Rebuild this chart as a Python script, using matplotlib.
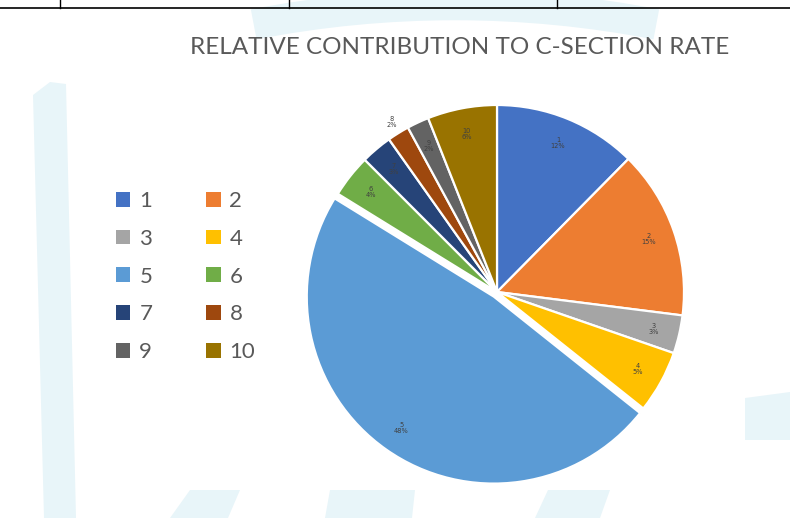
import numpy as np
import matplotlib.pyplot as plt
from matplotlib.patches import Patch, Arc, Polygon
from matplotlib.lines import Line2D

# share of caesarean sections per group (percent)
groups = ["1", "2", "3", "4", "5", "6", "7", "8", "9", "10"]
shares = [12.4, 14.6, 3.3, 5.4, 48.1, 3.7, 2.7, 1.9, 1.9, 6.0]
slice_colors = ["#4472C4", "#ED7D31", "#A5A5A5", "#FFC000", "#5B9BD5",
                "#70AD47", "#264478", "#9E480E", "#636363", "#997300"]
title = "RELATIVE CONTRIBUTION TO C-SECTION RATE"

W, H = 790, 518
fig = plt.figure(figsize=(W / 100, H / 100), dpi=100)
fig.patch.set_facecolor("white")


def fx(px):
    return px / W


def fy(py):
    return 1 - py / H


# faint background logo shapes, drawn in pixel units
bg = fig.add_axes([0, 0, 1, 1], zorder=0)
bg.set_xlim(0, W)
bg.set_ylim(H, 0)
bg.axis("off")
wm = "#e8f5f9"
bg.add_patch(Arc((455, 1060), 2 * 1055, 2 * 1055, theta1=259, theta2=281,
                 color=wm, lw=22))
bg.add_patch(Polygon([(33, 95), (50, 82), (66, 84), (76, 518), (44, 518)],
                     closed=True, color=wm, lw=0))
bg.add_patch(Polygon([(745, 398), (790, 392), (790, 440), (745, 440)],
                     closed=True, color=wm, lw=0))
for pts in [[(170, 518), (190, 490), (240, 490), (228, 518)],
            [(325, 518), (330, 490), (415, 490), (412, 518)],
            [(535, 518), (548, 490), (610, 490), (600, 518)]]:
    bg.add_patch(Polygon(pts, closed=True, color=wm, lw=0))

# table rule along the top edge
bg.add_line(Line2D([0, W], [8, 8], color="black", lw=1.2))
for xv in [60, 289, 557]:
    bg.add_line(Line2D([xv, xv], [0, 8], color="black", lw=1.0))

# pie
cx, cy, r = 497, 292, 187
half = 205
ax = fig.add_axes([fx(cx - half), fy(cy + half), 2 * half / W, 2 * half / H],
                  zorder=2)
explode = [0.0] * len(shares)
explode[4] = 0.03
wedges, _ = ax.pie(shares, colors=slice_colors, startangle=90,
                   counterclock=False, explode=explode, radius=1.0,
                   wedgeprops=dict(edgecolor="white", linewidth=1.6))
lim = half / r
ax.set_xlim(-lim, lim)
ax.set_ylim(-lim, lim)
ax.set_aspect("auto")
ax.axis("off")

total = sum(shares)
for i, w in enumerate(wedges):
    mid = np.deg2rad((w.theta1 + w.theta2) / 2)
    dist = 0.86
    if groups[i] == "8":
        dist = 1.07
    ox, oy = w.center
    ax.text(ox + dist * np.cos(mid), oy + dist * np.sin(mid),
            f"{groups[i]}\n{shares[i] / total * 100:.0f}%",
            ha="center", va="center", fontsize=4.8, color="#404040",
            linespacing=1.0)

fig.text(fx(460), fy(48), title, ha="center", va="center",
         fontsize=17.5, color="#595959", family="Lato")

# legend laid out as two columns, row-wise reading order
handles = [Patch(facecolor=c, edgecolor="none") for c in slice_colors]
order = [0, 2, 4, 6, 8, 1, 3, 5, 7, 9]
leg = fig.legend([handles[i] for i in order], [groups[i] for i in order],
                 ncol=2, loc="upper left",
                 bbox_to_anchor=(fx(96), fy(171)),
                 frameon=False, labelcolor="#595959",
                 handlelength=0.65, handleheight=0.65, handletextpad=0.4,
                 columnspacing=2.42, labelspacing=0.8,
                 prop={"family": "Lato", "size": 16})

fig.savefig("out.png", dpi=100, facecolor="white")
